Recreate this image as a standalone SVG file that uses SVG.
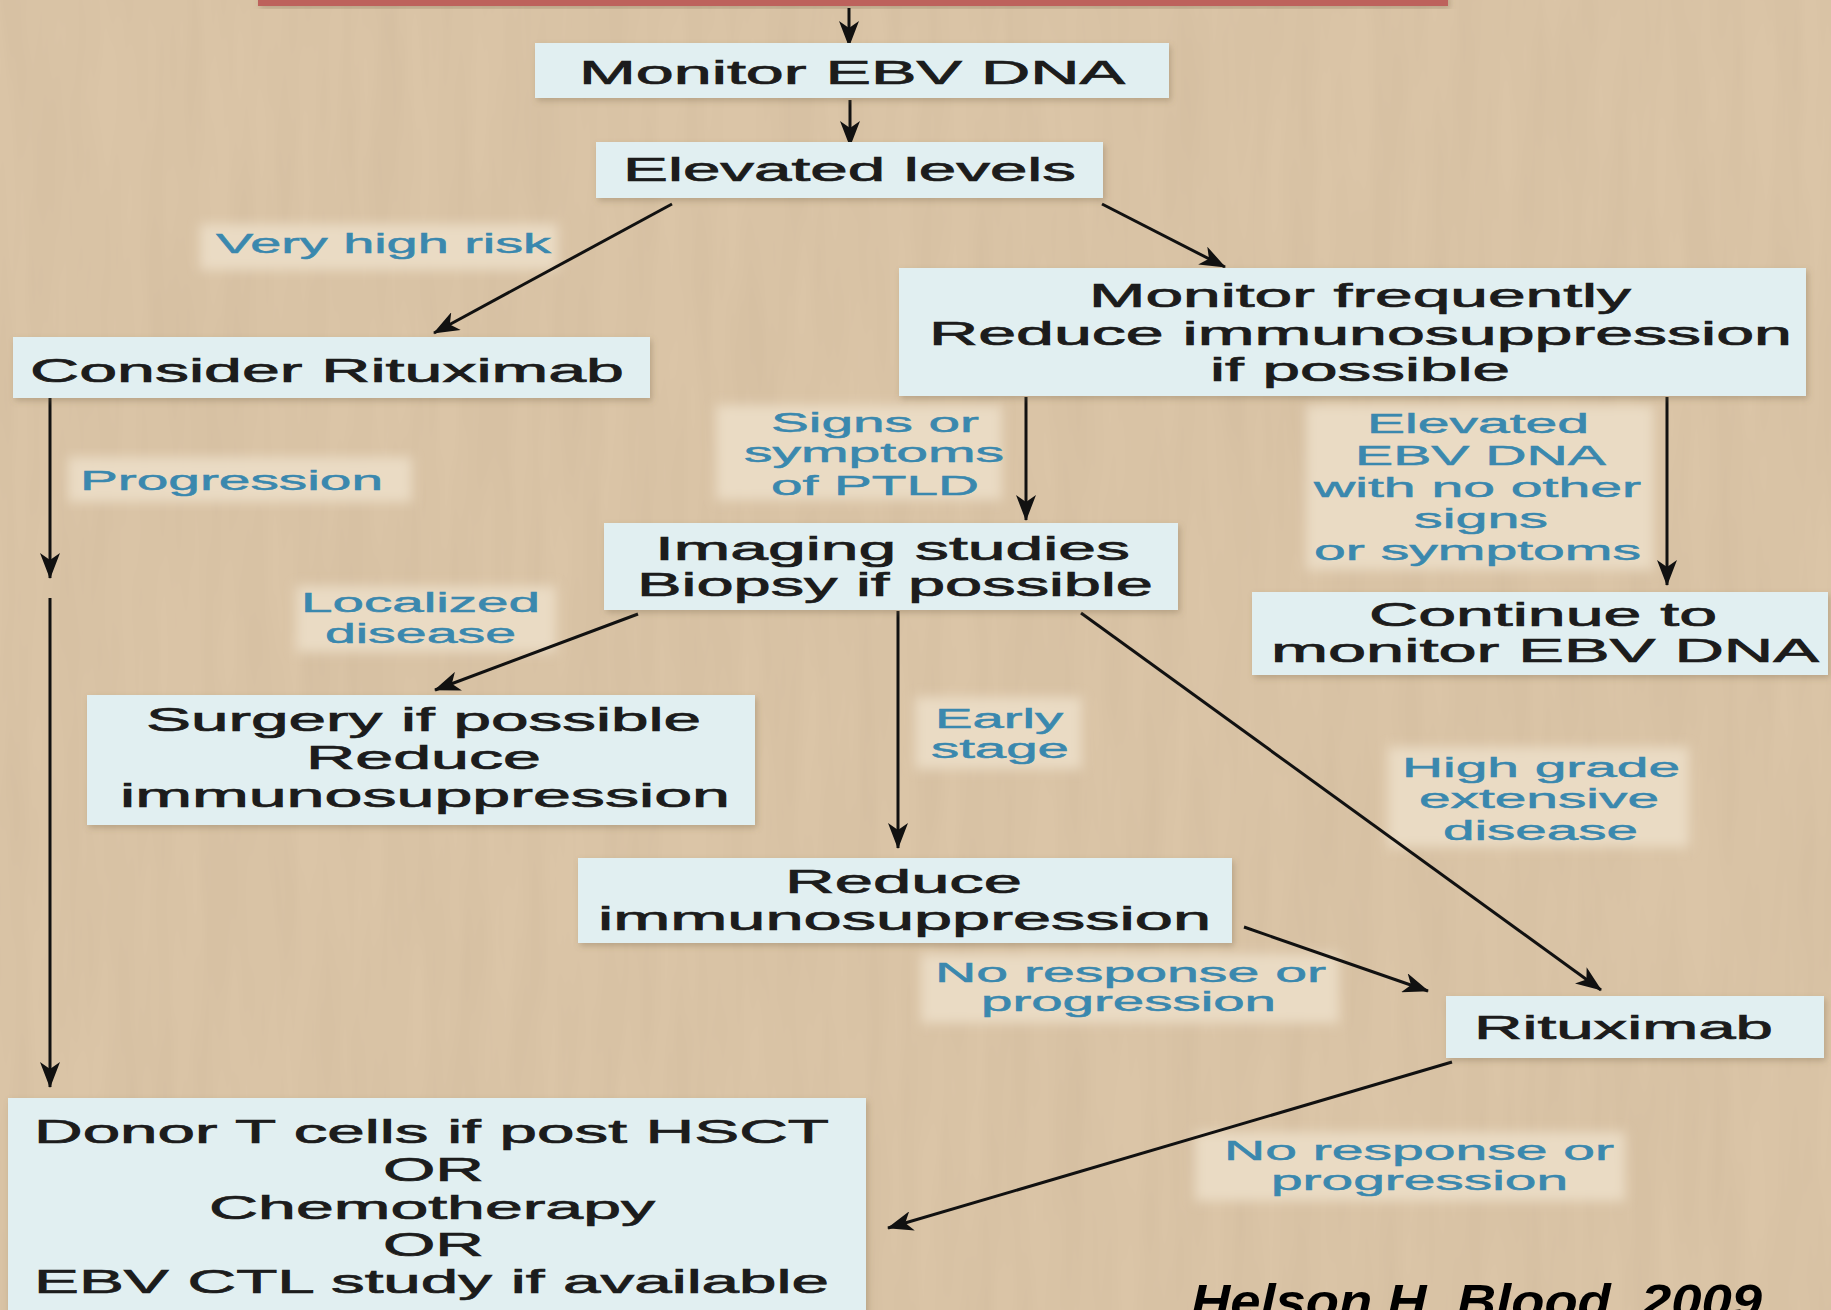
<svg xmlns="http://www.w3.org/2000/svg" width="1831" height="1310" viewBox="0 0 1831 1310">
<defs>
<style>
.box{fill:#e1eff1;filter:url(#shadow);}
.t{font-family:"Liberation Sans",Arial,sans-serif;font-size:33px;fill:#1c1c1c;stroke:#1c1c1c;stroke-width:0.7px;}
.l{font-family:"Liberation Sans",Arial,sans-serif;font-size:27px;fill:#3a88ae;stroke:#3a88ae;stroke-width:0.5px;}
.patch{fill:#eadbc4;filter:url(#soft);}
.c{fill:none;stroke:#111;stroke-width:3;marker-end:url(#ah);}
.cite{font-family:"Liberation Sans",Arial,sans-serif;font-size:48px;font-weight:bold;font-style:italic;fill:#000;}
</style>
<filter id="shadow" x="-5%" y="-10%" width="110%" height="130%">
<feDropShadow dx="2" dy="3" stdDeviation="3" flood-color="#7a6548" flood-opacity="0.35"/>
</filter>
<filter id="soft" x="-10%" y="-20%" width="120%" height="140%">
<feGaussianBlur stdDeviation="6"/>
</filter>
<filter id="grain" x="0" y="0" width="100%" height="100%">
<feTurbulence type="fractalNoise" baseFrequency="0.035 0.004" numOctaves="3" seed="7"/>
<feColorMatrix type="matrix" values="0 0 0 0 0.55  0 0 0 0 0.42  0 0 0 0 0.28  0 0 0 0.35 -0.08"/>
</filter>
<marker id="ah" viewBox="0 0 26 20" refX="25" refY="10" markerWidth="26" markerHeight="20" markerUnits="userSpaceOnUse" orient="auto">
<path d="M0,0 L26,10 L0,20 L7,10 Z" fill="#111"/>
</marker>
</defs>
<rect width="1831" height="1310" fill="#dbc5a7"/>
<rect width="1831" height="1310" filter="url(#grain)"/>

<g id="top-bar"><rect x="258" y="-6" width="1190" height="12" fill="#bd625c" filter="url(#shadow)"/></g>

<g id="labels">
<rect class="patch" x="200" y="224" width="358" height="46"/>
<rect class="patch" x="68" y="457" width="344" height="45"/>
<rect class="patch" x="716" y="405" width="286" height="95"/>
<rect class="patch" x="1306" y="405" width="348" height="165"/>
<rect class="patch" x="296" y="586" width="260" height="66"/>
<rect class="patch" x="915" y="697" width="167" height="72"/>
<rect class="patch" x="1388" y="747" width="301" height="100"/>
<rect class="patch" x="921" y="954" width="418" height="69"/>
<rect class="patch" x="1195" y="1132" width="430" height="69"/>
<text class="l" x="216" y="253" textLength="335" lengthAdjust="spacingAndGlyphs">Very high risk</text>
<text class="l" x="80" y="490" textLength="303" lengthAdjust="spacingAndGlyphs">Progression</text>
<text class="l" x="771" y="432" textLength="208" lengthAdjust="spacingAndGlyphs">Signs or</text>
<text class="l" x="744" y="462" textLength="260" lengthAdjust="spacingAndGlyphs">symptoms</text>
<text class="l" x="771" y="495" textLength="208" lengthAdjust="spacingAndGlyphs">of PTLD</text>
<text class="l" x="1367" y="433" textLength="222" lengthAdjust="spacingAndGlyphs">Elevated</text>
<text class="l" x="1355" y="465" textLength="251" lengthAdjust="spacingAndGlyphs">EBV DNA</text>
<text class="l" x="1314" y="497" textLength="327" lengthAdjust="spacingAndGlyphs">with no other</text>
<text class="l" x="1414" y="528" textLength="134" lengthAdjust="spacingAndGlyphs">signs</text>
<text class="l" x="1314" y="560" textLength="327" lengthAdjust="spacingAndGlyphs">or symptoms</text>
<text class="l" x="301" y="612" textLength="239" lengthAdjust="spacingAndGlyphs">Localized</text>
<text class="l" x="325" y="643" textLength="191" lengthAdjust="spacingAndGlyphs">disease</text>
<text class="l" x="935" y="728" textLength="128" lengthAdjust="spacingAndGlyphs">Early</text>
<text class="l" x="931" y="758" textLength="138" lengthAdjust="spacingAndGlyphs">stage</text>
<text class="l" x="1402" y="777" textLength="278" lengthAdjust="spacingAndGlyphs">High grade</text>
<text class="l" x="1419" y="808" textLength="240" lengthAdjust="spacingAndGlyphs">extensive</text>
<text class="l" x="1443" y="840" textLength="195" lengthAdjust="spacingAndGlyphs">disease</text>
<text class="l" x="935" y="982" textLength="391" lengthAdjust="spacingAndGlyphs">No response or</text>
<text class="l" x="981" y="1011" textLength="295" lengthAdjust="spacingAndGlyphs">progression</text>
<text class="l" x="1224" y="1160" textLength="390" lengthAdjust="spacingAndGlyphs">No response or</text>
<text class="l" x="1271" y="1190" textLength="297" lengthAdjust="spacingAndGlyphs">progression</text>
</g>

<g id="connectors">
<path class="c" d="M849,8 L849,46"/>
<path class="c" d="M850,100 L850,146"/>
<path class="c" d="M672,204 L434,333"/>
<path class="c" d="M1102,204 L1225,267"/>
<path class="c" d="M50,398 L50,578"/>
<path class="c" d="M50,598 L50,1087"/>
<path class="c" d="M1026,397 L1026,520"/>
<path class="c" d="M1667,397 L1667,585"/>
<path class="c" d="M638,614 L435,690"/>
<path class="c" d="M898,611 L898,848"/>
<path class="c" d="M1081,613 L1601,990"/>
<path class="c" d="M1244,927 L1428,991"/>
<path class="c" d="M1452,1062 L888,1228"/>
</g>

<g id="n-monitor-ebv"><rect class="box" x="535" y="43" width="634" height="55"/>
<text class="t" x="579" y="84" textLength="546" lengthAdjust="spacingAndGlyphs">Monitor EBV DNA</text></g>
<g id="n-elevated"><rect class="box" x="596" y="142" width="507" height="56"/>
<text class="t" x="623" y="181" textLength="453" lengthAdjust="spacingAndGlyphs">Elevated levels</text></g>
<g id="n-consider"><rect class="box" x="13" y="337" width="637" height="61"/>
<text class="t" x="30" y="382" textLength="594" lengthAdjust="spacingAndGlyphs">Consider Rituximab</text></g>
<g id="n-monitor-freq"><rect class="box" x="899" y="268" width="907" height="128"/>
<text class="t" x="1089" y="307" textLength="542" lengthAdjust="spacingAndGlyphs">Monitor frequently</text>
<text class="t" x="929" y="345" textLength="863" lengthAdjust="spacingAndGlyphs">Reduce immunosuppression</text>
<text class="t" x="1210" y="381" textLength="300" lengthAdjust="spacingAndGlyphs">if possible</text></g>
<g id="n-imaging"><rect class="box" x="604" y="523" width="574" height="87"/>
<text class="t" x="655" y="560" textLength="475" lengthAdjust="spacingAndGlyphs">Imaging studies</text>
<text class="t" x="637" y="596" textLength="516" lengthAdjust="spacingAndGlyphs">Biopsy if possible</text></g>
<g id="n-continue"><rect class="box" x="1252" y="592" width="576" height="83"/>
<text class="t" x="1369" y="626" textLength="348" lengthAdjust="spacingAndGlyphs">Continue to</text>
<text class="t" x="1271" y="662" textLength="548" lengthAdjust="spacingAndGlyphs">monitor EBV DNA</text></g>
<g id="n-surgery"><rect class="box" x="87" y="695" width="668" height="130"/>
<text class="t" x="146" y="731" textLength="555" lengthAdjust="spacingAndGlyphs">Surgery if possible</text>
<text class="t" x="306" y="769" textLength="235" lengthAdjust="spacingAndGlyphs">Reduce</text>
<text class="t" x="120" y="807" textLength="610" lengthAdjust="spacingAndGlyphs">immunosuppression</text></g>
<g id="n-reduce"><rect class="box" x="578" y="858" width="654" height="85"/>
<text class="t" x="785" y="893" textLength="237" lengthAdjust="spacingAndGlyphs">Reduce</text>
<text class="t" x="598" y="930" textLength="613" lengthAdjust="spacingAndGlyphs">immunosuppression</text></g>
<g id="n-rituximab"><rect class="box" x="1446" y="996" width="378" height="62"/>
<text class="t" x="1474" y="1039" textLength="299" lengthAdjust="spacingAndGlyphs">Rituximab</text></g>
<g id="n-donor"><rect class="box" x="8" y="1098" width="858" height="230"/>
<text class="t" x="34" y="1143" textLength="795" lengthAdjust="spacingAndGlyphs">Donor T cells if post HSCT</text>
<text class="t" x="383" y="1181" textLength="101" lengthAdjust="spacingAndGlyphs">OR</text>
<text class="t" x="209" y="1219" textLength="446" lengthAdjust="spacingAndGlyphs">Chemotherapy</text>
<text class="t" x="383" y="1256" textLength="101" lengthAdjust="spacingAndGlyphs">OR</text>
<text class="t" x="34" y="1293" textLength="795" lengthAdjust="spacingAndGlyphs">EBV CTL study if available</text></g>

<g id="citation"><text class="cite" x="1191" y="1318" textLength="571" lengthAdjust="spacingAndGlyphs">Helson H, Blood, 2009</text></g>
</svg>
